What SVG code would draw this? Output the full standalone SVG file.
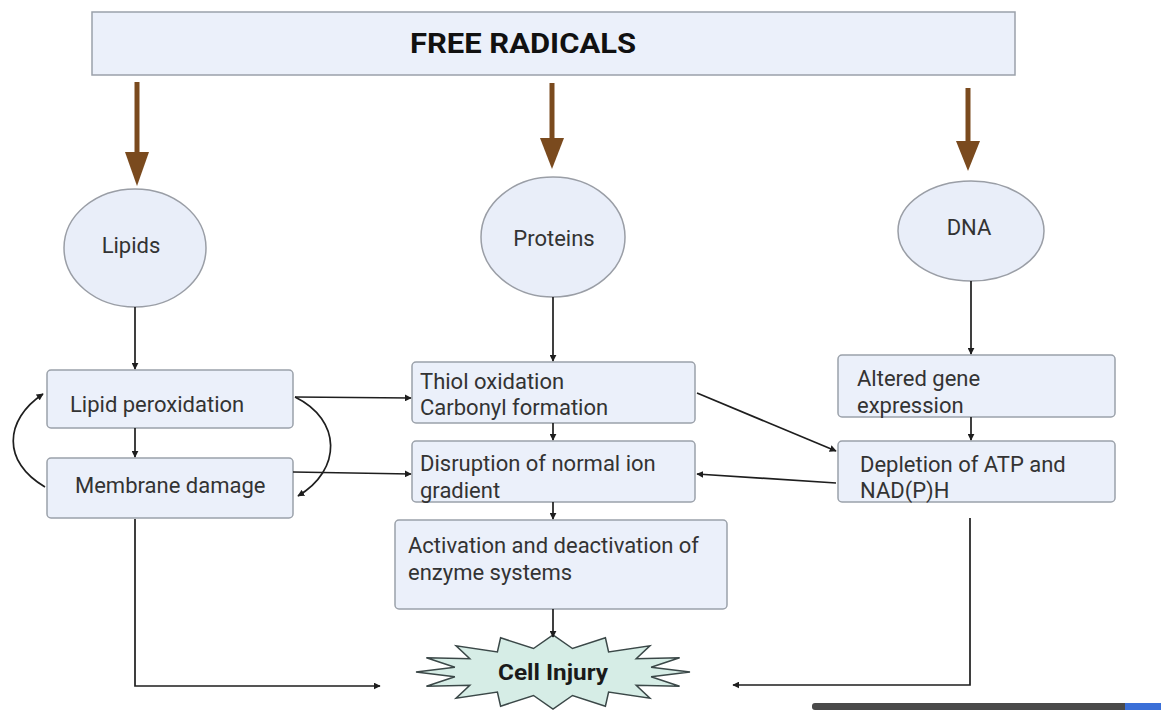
<svg xmlns="http://www.w3.org/2000/svg" width="1161" height="710" viewBox="0 0 1161 710">
<defs>
<style>
.box{fill:#ebf0fa;stroke:#9ba1aa;stroke-width:1.5}
.ell{fill:#e9eef9;stroke:#9a9ea6;stroke-width:1.5}
.t{font-family:Roboto,"Liberation Sans",sans-serif;font-size:22px;fill:#333333}
.c{fill:none;stroke:#1e1e1e;stroke-width:1.7}
.brown{stroke:#7a4a1e;stroke-width:5;fill:none}
.bh{fill:#7a4a1e}
</style>
<marker id="ah" viewBox="0 0 10 10" refX="9" refY="5" markerWidth="7" markerHeight="7" markerUnits="userSpaceOnUse" orient="auto">
<path d="M0,0 L10,5 L0,10 z" fill="#1e1e1e"/>
</marker>
</defs>
<rect width="1161" height="710" fill="#ffffff"/>

<g id="free-radicals">
<rect x="92" y="12" width="923" height="63" class="box"/>
<text x="523" y="53" text-anchor="middle" font-family="Roboto,'Liberation Sans',sans-serif" font-weight="700" font-size="28" fill="#111" textLength="226" lengthAdjust="spacingAndGlyphs">FREE RADICALS</text>
</g>

<g id="brown-arrows">
<line x1="137" y1="82" x2="137" y2="155" class="brown"/>
<polygon points="125,152 149,152 137,186" class="bh"/>
<line x1="552" y1="83" x2="552" y2="140" class="brown"/>
<polygon points="540,138 564,138 552,169" class="bh"/>
<line x1="968" y1="88" x2="968" y2="143" class="brown"/>
<polygon points="956,141 980,141 968,171" class="bh"/>
</g>

<g id="lipids">
<ellipse cx="135" cy="248" rx="71" ry="59" class="ell"/>
<text x="131" y="253" text-anchor="middle" class="t" font-size="20">Lipids</text>
</g>
<g id="proteins">
<ellipse cx="553" cy="237" rx="72" ry="60" class="ell"/>
<text x="554" y="246" text-anchor="middle" class="t" font-size="24">Proteins</text>
</g>
<g id="dna">
<ellipse cx="971" cy="231" rx="73" ry="50" class="ell"/>
<text x="969" y="235" text-anchor="middle" class="t" font-size="18">DNA</text>
</g>

<g id="lipid-peroxidation">
<rect x="47" y="370" width="246" height="58" rx="4" class="box"/>
<text x="70" y="412" class="t">Lipid peroxidation</text>
</g>
<g id="membrane-damage">
<rect x="47" y="458" width="246" height="60" rx="4" class="box"/>
<text x="75" y="493" class="t">Membrane damage</text>
</g>
<g id="thiol">
<rect x="412" y="362" width="283" height="61" rx="4" class="box"/>
<text x="420" y="389" class="t">Thiol oxidation</text>
<text x="420" y="415" class="t">Carbonyl formation</text>
</g>
<g id="disruption">
<rect x="412" y="441" width="283" height="61" rx="4" class="box"/>
<text x="420" y="471" class="t">Disruption of normal ion</text>
<text x="420" y="498" class="t">gradient</text>
</g>
<g id="activation">
<rect x="395" y="520" width="332" height="89" rx="4" class="box"/>
<text x="408" y="553" class="t">Activation and deactivation of</text>
<text x="408" y="580" class="t">enzyme systems</text>
</g>
<g id="altered-gene">
<rect x="838" y="355" width="277" height="62" rx="4" class="box"/>
<text x="857" y="386" class="t">Altered gene</text>
<text x="857" y="413" class="t">expression</text>
</g>
<g id="depletion">
<rect x="838" y="441" width="277" height="61" rx="4" class="box"/>
<text x="860" y="472" class="t">Depletion of ATP and</text>
<text x="860" y="498" class="t">NAD(P)H</text>
</g>

<g id="cell-injury">
<polygon points="690,672 651.1,676.7 679.6,686.2 636.2,685.3 649.9,698.2 608.6,692 605.4,706.2 572.5,695.5 553,709 533.5,695.5 500.6,706.2 497.4,692 456.1,698.2 469.8,685.3 426.4,686.2 454.9,676.7 416,672 454.9,667.3 426.4,657.8 469.8,658.7 456.1,645.8 497.4,652 500.6,637.8 533.5,648.5 553,635 572.5,648.5 605.4,637.8 608.6,652 649.9,645.8 636.2,658.7 679.6,657.8 651.1,667.3" fill="#d6ede6" stroke="#3b4848" stroke-width="1.5"/>
<text x="553" y="680" text-anchor="middle" font-family="Roboto,'Liberation Sans',sans-serif" font-weight="700" font-size="22" fill="#1a1a1a" textLength="110" lengthAdjust="spacingAndGlyphs">Cell Injury</text>
</g>

<g id="connectors">
<line x1="135" y1="307" x2="135" y2="369" class="c" marker-end="url(#ah)"/>
<line x1="553" y1="297" x2="553" y2="361" class="c" marker-end="url(#ah)"/>
<line x1="971" y1="281" x2="971" y2="354" class="c" marker-end="url(#ah)"/>
<line x1="135" y1="428" x2="135" y2="457" class="c" marker-end="url(#ah)"/>
<path d="M45,487 C2,462 4,420 43,394" class="c" marker-end="url(#ah)"/>
<path d="M295,397 C342,420 342,470 298,496" class="c" marker-end="url(#ah)"/>
<line x1="295" y1="397" x2="411" y2="398" class="c" marker-end="url(#ah)"/>
<line x1="293" y1="472" x2="411" y2="474" class="c" marker-end="url(#ah)"/>
<line x1="553" y1="423" x2="553" y2="440" class="c" marker-end="url(#ah)"/>
<line x1="553" y1="502" x2="553" y2="519" class="c" marker-end="url(#ah)"/>
<line x1="553" y1="609" x2="553" y2="637" class="c" marker-end="url(#ah)"/>
<line x1="971" y1="417" x2="971" y2="440" class="c" marker-end="url(#ah)"/>
<line x1="697" y1="393" x2="836" y2="451" class="c" marker-end="url(#ah)"/>
<line x1="836" y1="483" x2="697" y2="474" class="c" marker-end="url(#ah)"/>
<polyline points="135,519 135,686 380,686" class="c" marker-end="url(#ah)"/>
<polyline points="970,518 970,685 733,685" class="c" marker-end="url(#ah)"/>
</g>

<rect x="812" y="703" width="349" height="7" rx="3" fill="#4a4a4a"/>
<rect x="1125" y="703" width="36" height="7" fill="#3a6fd8"/>
</svg>
